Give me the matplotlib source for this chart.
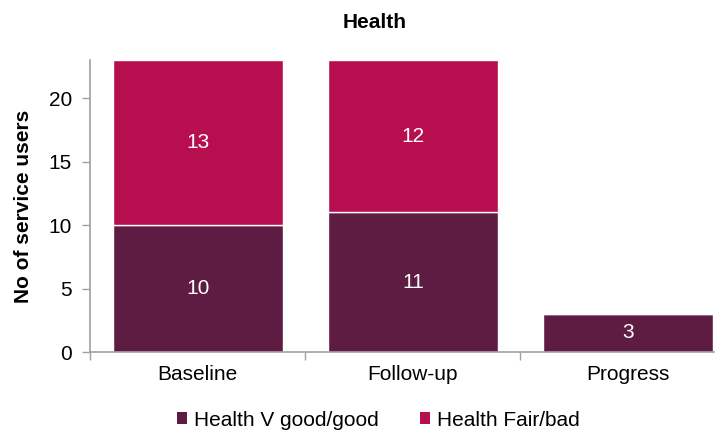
import matplotlib
matplotlib.use("Agg")
import matplotlib.pyplot as plt
from matplotlib.patches import Patch

plt.rcParams['font.family'] = ['Liberation Sans', 'DejaVu Sans']

categories = ["Baseline", "Follow-up", "Progress"]
good = [10, 11, 3]
fair_bad = [13, 12, 0]
series_names = ["Health V good/good", "Health Fair/bad"]
title = "Health"
ylabel = "No of service users"

c_good = "#5F1C42"
c_bad = "#B70E4F"
fs = 15

fig = plt.figure(figsize=(7.24, 4.32), dpi=100)
ax = fig.add_axes([90 / 724, 1 - 352 / 432, 624 / 724, 292 / 432])

x = list(range(len(categories)))
width = 0.79
ax.bar(x, good, width=width, color=c_good, edgecolor="white", linewidth=1.0)
ax.bar(x, fair_bad, width=width, bottom=good, color=c_bad, edgecolor="white", linewidth=1.0)

# Segment labels
for xi, g, b in zip(x, good, fair_bad):
    if g > 0:
        ax.text(xi, g / 2, str(g), ha="center", va="center", color="white", fontsize=fs)
    if b > 0:
        ax.text(xi, g + b / 2, str(b), ha="center", va="center", color="white", fontsize=fs)

ax.set_xlim(-0.5, 2.4)
ax.set_ylim(0, 23)
ax.set_yticks([0, 5, 10, 15, 20])

# Boundary ticks between categories, labels centred under bars
ax.set_xticks([-0.5, 0.5, 1.5])
ax.set_xticklabels([])
ax.set_xticks(x, minor=True)
ax.set_xticklabels(categories, minor=True)
ax.tick_params(axis="x", which="major", length=6, width=1, color="#A0A0A0", direction="out")
ax.tick_params(axis="x", which="minor", length=0, pad=9, labelsize=fs)
ax.tick_params(axis="y", length=6, width=1, color="#A0A0A0", pad=7, labelsize=fs)

for s in ["top", "right"]:
    ax.spines[s].set_visible(False)
for s in ["left", "bottom"]:
    ax.spines[s].set_color("#A0A0A0")
    ax.spines[s].set_linewidth(1.2)

ax.set_ylabel(ylabel, fontsize=fs, fontweight="bold")
ax.yaxis.set_label_coords(-(90 - 33) / 624, 0.5)
fig.text(374.5 / 724, 1 - 22 / 432, title, ha="center", va="center", fontsize=fs, fontweight="bold")

handles = [Patch(facecolor=c_good), Patch(facecolor=c_bad)]
fig.legend(handles, series_names, loc="center", bbox_to_anchor=(0.523, 1 - 420 / 432),
           ncol=2, frameon=False, fontsize=fs, handlelength=0.45, handleheight=0.45,
           handletextpad=0.35, columnspacing=2.0)

fig.savefig("out.png", dpi=100)
